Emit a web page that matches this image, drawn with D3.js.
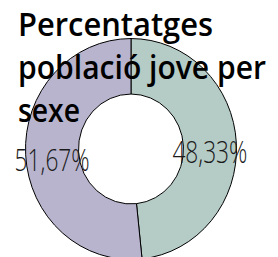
<!DOCTYPE html>
<html><head><meta charset="utf-8">
<script src="https://cdn.jsdelivr.net/npm/d3@7"></script>
<style>html,body{margin:0;padding:0;background:#fff;}svg{display:block;}</style>
</head><body>
<svg id="c" width="278" height="257"></svg>
<script>
const categories = ["Dones", "Homes"];
const values = [48.33, 51.67];
const labels = ["48,33%", "51,67%"];
const colors = ["#b5cbc6", "#b8b4cd"];
const titleLines = ["Percentatges", "població jove per", "sexe"];

const svg = d3.select("#c");
const cx = 131, cy = 149, rOuter = 105.5, rInner = 52.5, sy = 1.047;
const titleFit = [195, 248, 62];   // layout: rendered widths of the title lines
const labelFit = 75;              // layout: rendered width of each label

const pie = d3.pie().sort(null).value(d => d.v);
const arcs = pie(values.map((v, i) => ({v, i})));
const arc = d3.arc().innerRadius(rInner).outerRadius(rOuter);
const rMid = (rInner + rOuter) / 2;
const labelArc = d3.arc().innerRadius(rMid).outerRadius(rMid);

const g = svg.append("g").attr("transform", `translate(${cx},${cy}) scale(1,${sy})`);
g.selectAll("path").data(arcs).join("path")
  .attr("d", arc)
  .attr("fill", d => colors[d.data.i])
  .attr("stroke", "#000")
  .attr("stroke-width", 1)
  .attr("vector-effect", "non-scaling-stroke");

svg.selectAll("text.lbl").data(arcs).join("text")
  .attr("class", "lbl")
  .attr("x", d => cx + labelArc.centroid(d)[0])
  .attr("y", d => cy + labelArc.centroid(d)[1] * sy + 18)
  .attr("text-anchor", "middle")
  .attr("font-family", "Open Sans, sans-serif")
  .attr("font-weight", 300)
  .attr("font-size", 32)
  .attr("fill", "#1a1a1a")
  .attr("textLength", labelFit)
  .attr("lengthAdjust", "spacingAndGlyphs")
  .text(d => labels[d.data.i]);

svg.selectAll("text.title").data(titleLines).join("text")
  .attr("class", "title")
  .attr("x", 18)
  .attr("y", (d, i) => 36 + i * 43)
  .attr("font-family", "Open Sans, sans-serif")
  .attr("font-weight", 600)
  .attr("font-size", 32)
  .attr("fill", "#000")
  .attr("textLength", (d, i) => titleFit[i])
  .attr("lengthAdjust", "spacingAndGlyphs")
  .text(d => d);
</script>
</body></html>
